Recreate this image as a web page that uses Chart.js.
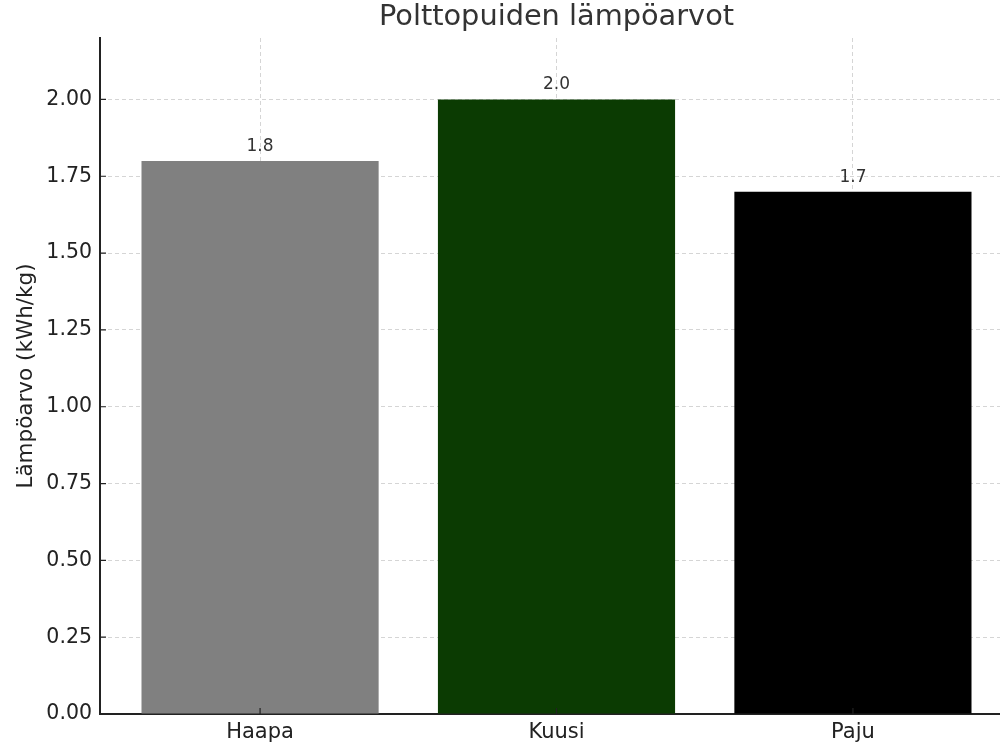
<!DOCTYPE html>
<html>
<head>
<meta charset="utf-8">
<script src="https://cdn.jsdelivr.net/npm/chart.js@4"></script>
<style>
  body { margin: 0; overflow: hidden; background: #fff; }
</style>
</head>
<body>
<canvas id="lampoChart" width="1013" height="750"></canvas>
<script>
const chartTitle = 'Polttopuiden lämpöarvot';
const yTitle = 'Lämpöarvo (kWh/kg)';
const woods = ['Haapa', 'Kuusi', 'Paju'];
const heatValues = [1.8, 2.0, 1.7];
const barColors = ['#808080', '#0b3b02', '#000000'];
const yTicks = [0, 0.25, 0.5, 0.75, 1.0, 1.25, 1.5, 1.75, 2.0];

const font = "'DejaVu Sans', sans-serif";
const gridStyle = {
  color: 'rgba(190, 190, 190, 0.65)',
  lineWidth: 1,
  drawTicks: false,
  offset: false
};

// title over the plot area, value labels, inward tick marks
const extras = {
  id: 'extras',
  afterDraw(chart) {
    const ctx = chart.ctx;
    const area = chart.chartArea;
    const xs = chart.scales.x, ys = chart.scales.y;
    ctx.save();
    ctx.fillStyle = '#333';
    ctx.font = '28.8px ' + font;
    ctx.textAlign = 'center';
    ctx.textBaseline = 'middle';
    ctx.fillText(chartTitle, (area.left + area.right) / 2, 18);

    ctx.font = '17px ' + font;
    ctx.textBaseline = 'bottom';
    chart.getDatasetMeta(0).data.forEach((bar, i) => {
      ctx.fillText(heatValues[i].toFixed(1), bar.x, bar.y - 6);
    });

    ctx.strokeStyle = '#222';
    ctx.lineWidth = 1.2;
    ctx.beginPath();
    yTicks.forEach(v => {
      const y = ys.getPixelForValue(v);
      ctx.moveTo(area.left, y);
      ctx.lineTo(area.left + 6, y);
    });
    woods.forEach((w, i) => {
      const x = xs.getPixelForValue(i);
      ctx.moveTo(x, area.bottom);
      ctx.lineTo(x, area.bottom - 6);
    });
    ctx.stroke();
    ctx.restore();
  }
};

new Chart(document.getElementById('lampoChart'), {
  type: 'bar',
  data: {
    datasets: [{
      data: heatValues.map((v, i) => ({ x: i, y: v })),
      backgroundColor: barColors,
      barPercentage: 1,
      categoryPercentage: 0.8
    }]
  },
  options: {
    responsive: false,
    devicePixelRatio: 1,
    animation: false,
    layout: { padding: { top: 38, left: 0, right: 0, bottom: 0 } },
    plugins: { legend: { display: false }, tooltip: { enabled: false } },
    scales: {
      x: {
        type: 'linear',
        min: -0.54,
        max: 2.54,
        offset: false,
        z: 1,
        afterBuildTicks: s => { s.ticks = woods.map((w, i) => ({ value: i })); },
        afterFit: s => { s.height = 36; },
        grid: gridStyle,
        border: { display: true, color: '#222', width: 2, dash: [4, 3] },
        ticks: {
          padding: 6,
          color: '#222',
          font: { family: font, size: 21 },
          callback: v => woods[v]
        }
      },
      y: {
        min: 0,
        max: 2.2,
        z: 1,
        afterBuildTicks: s => { s.ticks = yTicks.map(v => ({ value: v })); },
        afterFit: s => { s.width = 100; },
        grid: gridStyle,
        border: { display: true, color: '#222', width: 2, dash: [4, 3] },
        ticks: {
          padding: 8,
          color: '#222',
          font: { family: font, size: 20.5 },
          callback: v => v.toFixed(2)
        },
        title: {
          display: true,
          text: yTitle,
          color: '#222',
          font: { family: font, size: 21.5 },
          padding: { top: 14, bottom: 0 }
        }
      }
    }
  },
  plugins: [extras]
});
</script>
</body>
</html>
